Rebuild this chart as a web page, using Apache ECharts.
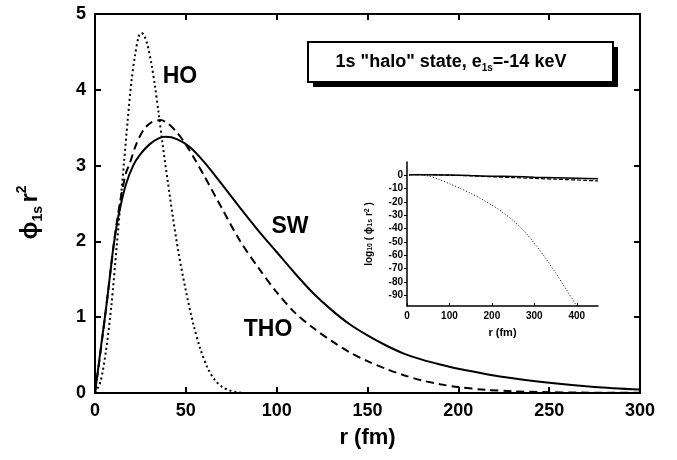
<!DOCTYPE html>
<html>
<head>
<meta charset="utf-8">
<script src="https://cdn.jsdelivr.net/npm/echarts@6/dist/echarts.min.js"></script>
<style>
  html, body { margin: 0; padding: 0; background: #fff; }
  #chart { width: 677px; height: 460px; }
</style>
</head>
<body>
<div id="chart"></div>
<script>
// main panel: phi_1s r^2 vs r (fm)
const swR = [0, 2, 4, 6, 8, 10, 12, 14, 17, 21, 25, 30, 35, 39, 45, 52, 60, 70, 80, 90, 100, 110, 120, 130, 140, 150, 160, 170, 180, 190, 200, 225, 250, 275, 300];
const swV = [0, 0.37, 0.74, 1.1, 1.5, 1.9, 2.22, 2.46, 2.75, 3.0, 3.15, 3.28, 3.36, 3.38, 3.35, 3.25, 3.05, 2.75, 2.44, 2.14, 1.86, 1.58, 1.32, 1.1, 0.91, 0.76, 0.63, 0.52, 0.44, 0.375, 0.32, 0.21, 0.135, 0.08, 0.045];

const thoR = [0, 2, 4, 6, 8, 10, 12, 14, 17, 19, 23, 27, 31, 36, 40, 45, 50, 55, 60, 70, 80, 90, 100, 110, 120, 130, 140, 150, 160, 170, 180, 190, 200, 215, 230, 250, 275, 300];
const thoV = [0, 0.35, 0.72, 1.1, 1.5, 1.9, 2.25, 2.55, 2.9, 3.02, 3.3, 3.48, 3.57, 3.6, 3.56, 3.44, 3.28, 3.08, 2.87, 2.43, 2.0, 1.65, 1.33, 1.06, 0.86, 0.69, 0.54, 0.42, 0.32, 0.235, 0.165, 0.115, 0.078, 0.042, 0.023, 0.01, 0.004, 0.002];

const hoR = [0, 3, 6, 9, 12, 14, 16, 18, 20, 22, 24, 25.5, 27, 29, 31, 33, 35, 37, 40, 43, 46, 50, 54, 58, 62, 66, 70, 74, 78, 82];
const hoV = [0, 0.15, 0.55, 1.15, 1.95, 2.5, 3.05, 3.6, 4.1, 4.45, 4.7, 4.75, 4.72, 4.58, 4.35, 4.05, 3.7, 3.32, 2.8, 2.3, 1.85, 1.35, 0.92, 0.58, 0.33, 0.17, 0.08, 0.035, 0.01, 0];

// inset: log10(phi_1s r^2)
const logSwR = [5, 50, 100, 150, 200, 250, 300, 350, 400, 450];
const logSwV = [0.4, 0.5, 0.25, -0.2, -0.6, -0.9, -1.4, -1.8, -2.2, -2.6];
const logThoR = [5, 50, 100, 150, 200, 250, 300, 350, 400, 450];
const logThoV = [0.4, 0.5, 0.1, -0.4, -1.1, -1.7, -2.3, -2.9, -3.5, -4.2];
const logHoR = [5, 25, 50, 75, 100, 125, 150, 175, 200, 225, 250, 275, 300, 325, 350, 375, 400];
const logHoV = [0.3, 0.7, -0.5, -3, -6.3, -9.7, -13.5, -17.6, -22.3, -27.6, -33.9, -41.4, -51, -61.5, -73, -85.5, -98];

const insetXTicks = [0, 100, 200, 300, 400];
const insetYTicks = [0, -10, -20, -30, -40, -50, -60, -70, -80, -90];

const zip = (a, b) => a.map((x, i) => [x, b[i]]);

const FONT = '"Liberation Sans", Arial, sans-serif';

const chart = echarts.init(document.getElementById('chart'), null, { renderer: 'canvas' });

const boxAxisLine = () => ({ show: true, onZero: false, lineStyle: { color: '#000', width: 2 } });
const boxTick = () => ({ show: true, inside: true, length: 6, lineStyle: { color: '#000', width: 2 } });

const option = {
  animation: false,
  backgroundColor: '#fff',
  grid: [
    // frame of the main panel
    { left: 95, right: 37, top: 14, bottom: 67, show: true, borderColor: '#000', borderWidth: 2, backgroundColor: 'transparent' },
    { left: 407, right: 79, top: 162, bottom: 154 }
  ],
  xAxis: [
    {
      gridIndex: 0, type: 'value', min: 0, max: 300, interval: 50, position: 'bottom',
      axisLine: boxAxisLine(), axisTick: boxTick(), splitLine: { show: false },
      axisLabel: { color: '#000', fontFamily: FONT, fontWeight: 'bold', fontSize: 18, margin: 9 },
      name: 'r (fm)', nameLocation: 'middle', nameGap: 34,
      nameTextStyle: { color: '#000', fontFamily: FONT, fontWeight: 'bold', fontSize: 22 }
    },
    {
      gridIndex: 0, type: 'value', min: 0, max: 300, interval: 50, position: 'top',
      axisLine: boxAxisLine(), axisTick: boxTick(), axisLabel: { show: false }, splitLine: { show: false }
    },
    {
      gridIndex: 1, type: 'value', min: 0, max: 450,
      axisLine: { show: true, onZero: false, lineStyle: { color: '#000', width: 1.5 } },
      axisTick: { show: true, inside: true, length: 3, customValues: insetXTicks, lineStyle: { color: '#000', width: 1 } },
      axisLabel: { color: '#000', fontFamily: FONT, fontWeight: 'bold', fontSize: 10, margin: 5, customValues: insetXTicks },
      splitLine: { show: false },
      name: 'r (fm)', nameLocation: 'middle', nameGap: 21,
      nameTextStyle: { color: '#000', fontFamily: FONT, fontWeight: 'bold', fontSize: 11 }
    }
  ],
  yAxis: [
    {
      gridIndex: 0, type: 'value', min: 0, max: 5, interval: 1, position: 'left',
      axisLine: boxAxisLine(), axisTick: boxTick(), splitLine: { show: false },
      axisLabel: { color: '#000', fontFamily: FONT, fontWeight: 'bold', fontSize: 18, margin: 9 },
      name: '{a|ϕ}{s|1s} {a|r}{p|2}', nameLocation: 'middle', nameGap: 50, nameRotate: 90,
      nameTextStyle: {
        color: '#000', fontFamily: FONT, fontWeight: 'bold', padding: [0, 18, 0, 0],
        rich: {
          a: { fontFamily: FONT, fontWeight: 'bold', fontSize: 24, lineHeight: 30, color: '#000' },
          s: { fontFamily: FONT, fontWeight: 'bold', fontSize: 14, lineHeight: 15, verticalAlign: 'bottom', color: '#000' },
          p: { fontFamily: FONT, fontWeight: 'bold', fontSize: 14, lineHeight: 15, verticalAlign: 'top', color: '#000' }
        }
      }
    },
    {
      gridIndex: 0, type: 'value', min: 0, max: 5, interval: 1, position: 'right',
      axisLine: boxAxisLine(), axisTick: boxTick(), axisLabel: { show: false }, splitLine: { show: false }
    },
    {
      gridIndex: 1, type: 'value', min: -98, max: 10,
      axisLine: { show: true, onZero: false, lineStyle: { color: '#000', width: 1.5 } },
      axisTick: { show: true, inside: false, length: 3, customValues: insetYTicks, lineStyle: { color: '#000', width: 1 } },
      axisLabel: { color: '#000', fontFamily: FONT, fontWeight: 'bold', fontSize: 10, margin: 4, customValues: insetYTicks },
      splitLine: { show: false },
      name: 'log{s|10} ( ϕ{s|1s} r{p|2} )', nameLocation: 'middle', nameGap: 33, nameRotate: 90,
      nameTextStyle: {
        color: '#000', fontFamily: FONT, fontWeight: 'bold', fontSize: 10,
        rich: {
          s: { fontFamily: FONT, fontWeight: 'bold', fontSize: 7, lineHeight: 8, verticalAlign: 'bottom', color: '#000' },
          p: { fontFamily: FONT, fontWeight: 'bold', fontSize: 7, lineHeight: 8, verticalAlign: 'top', color: '#000' }
        }
      }
    }
  ],
  series: [
    {
      name: 'SW', type: 'line', xAxisIndex: 0, yAxisIndex: 0, data: zip(swR, swV),
      showSymbol: false, smooth: 0.3, lineStyle: { color: '#000', width: 2, type: 'solid' }
    },
    {
      name: 'THO', type: 'line', xAxisIndex: 0, yAxisIndex: 0, data: zip(thoR, thoV),
      showSymbol: false, smooth: 0.3, lineStyle: { color: '#000', width: 2, type: [8, 5] }
    },
    {
      name: 'HO', type: 'line', xAxisIndex: 0, yAxisIndex: 0, data: zip(hoR, hoV),
      showSymbol: false, smooth: 0.3, lineStyle: { color: '#000', width: 2, type: [2, 3] }
    },
    {
      name: 'SW log', type: 'line', xAxisIndex: 2, yAxisIndex: 2, data: zip(logSwR, logSwV),
      showSymbol: false, smooth: 0.3, lineStyle: { color: '#000', width: 1.5, type: 'solid' }
    },
    {
      name: 'THO log', type: 'line', xAxisIndex: 2, yAxisIndex: 2, data: zip(logThoR, logThoV),
      showSymbol: false, smooth: 0.3, lineStyle: { color: '#000', width: 1.2, type: [4, 2] }
    },
    {
      name: 'HO log', type: 'line', xAxisIndex: 2, yAxisIndex: 2, data: zip(logHoR, logHoV),
      showSymbol: false, smooth: 0.3, lineStyle: { color: '#000', width: 1, type: [1, 2] }
    }
  ],
  graphic: [
    { type: 'rect', shape: { x: 313, y: 47, width: 305, height: 40 }, style: { fill: '#000' }, silent: true },
    { type: 'rect', shape: { x: 308, y: 42, width: 305, height: 40 }, style: { fill: '#fff', stroke: '#000', lineWidth: 2 }, silent: true },
    {
      type: 'text', x: 451, y: 62, silent: true,
      style: {
        text: '{a|1s "halo" state, e}{s|1s}{a|=-14 keV}',
        align: 'center', verticalAlign: 'middle',
        rich: {
          a: { fontFamily: FONT, fontWeight: 'bold', fontSize: 18, lineHeight: 22, fill: '#000' },
          s: { fontFamily: FONT, fontWeight: 'bold', fontSize: 10, lineHeight: 10, verticalAlign: 'bottom', fill: '#000' }
        }
      }
    },
    { type: 'text', x: 180, y: 77, silent: true, style: { text: 'HO', fontFamily: FONT, fontWeight: 'bold', fontSize: 23, fill: '#000', align: 'center', verticalAlign: 'middle' } },
    { type: 'text', x: 290, y: 227, silent: true, style: { text: 'SW', fontFamily: FONT, fontWeight: 'bold', fontSize: 23, fill: '#000', align: 'center', verticalAlign: 'middle' } },
    { type: 'text', x: 268, y: 330, silent: true, style: { text: 'THO', fontFamily: FONT, fontWeight: 'bold', fontSize: 23, fill: '#000', align: 'center', verticalAlign: 'middle' } }
  ]
};

chart.setOption(option);
</script>
</body>
</html>
